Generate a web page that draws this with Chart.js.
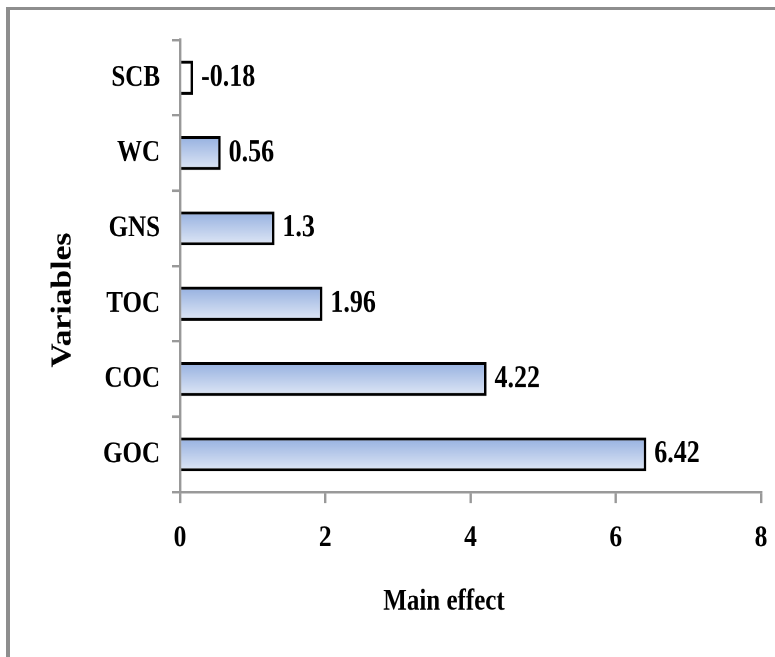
<!DOCTYPE html>
<html>
<head>
<meta charset="utf-8">
<script src="https://cdn.jsdelivr.net/npm/chart.js@4.4.1/dist/chart.umd.min.js"></script>
<style>
  html, body { margin: 0; padding: 0; background: #fff; overflow: hidden; }
  body { width: 775px; height: 657px; position: relative; }
  #frame {
    position: absolute; left: 6px; top: 7px; width: 820px; height: 720px;
    border-left: 4px solid #8e8e8e; border-top: 3px solid #8e8e8e;
  }
  /* the plot is laid out at 548px tall and stretched to the full page height */
  #plot {
    position: absolute; left: 0; top: 0; width: 775px; height: 548px;
    transform: scaleY(1.19891); transform-origin: 0 0;
  }
  canvas { display: block; }
</style>
</head>
<body>
<div id="frame"></div>
<div id="plot"><canvas id="chart" width="775" height="548" style="width:775px;height:548px"></canvas></div>
<script>
// Main effects of each variable
const variables   = ['SCB', 'WC', 'GNS', 'TOC', 'COC', 'GOC'];
const mainEffects = [-0.18, 0.56, 1.3, 1.96, 4.22, 6.42];
const effectTicks = [0, 2, 4, 6, 8];

const serif = '"Liberation Serif", "Times New Roman", serif';
const BAR_PCT = 0.45;

// vertical blue fade inside each bar; negative effects get a plain white bar
function barFill(ctx) {
  const value = mainEffects[ctx.dataIndex];
  if (value < 0) return '#ffffff';
  const chart = ctx.chart;
  const yScale = chart.scales && chart.scales.y;
  if (!chart.chartArea || !yScale || ctx.type !== 'data') return '#bccdeb';
  const center = yScale.getPixelForValue(ctx.dataIndex);
  const band = (yScale.bottom - yScale.top) / variables.length;
  const half = band * BAR_PCT / 2;
  const g = chart.ctx.createLinearGradient(0, center - half, 0, center + half);
  g.addColorStop(0, '#95b0e0');
  g.addColorStop(1, '#e0e8f6');
  return g;
}

// value written just past the end of each bar
const valueLabels = {
  id: 'valueLabels',
  afterDatasetsDraw(chart) {
    const ctx = chart.ctx;
    const meta = chart.getDatasetMeta(0);
    ctx.save();
    ctx.fillStyle = '#000';
    ctx.font = 'bold 26px ' + serif;
    ctx.textAlign = 'left';
    ctx.textBaseline = 'middle';
    meta.data.forEach((bar, i) => {
      ctx.fillText(String(mainEffects[i]), bar.x + 8, bar.y);
    });
    ctx.restore();
  }
};

// axis captions
const axisCaptions = {
  id: 'axisCaptions',
  afterDraw(chart) {
    const ctx = chart.ctx;
    const a = chart.chartArea;
    ctx.save();
    ctx.fillStyle = '#000';
    ctx.textAlign = 'center';
    ctx.textBaseline = 'middle';
    ctx.font = 'bold 25px ' + serif;
    ctx.fillText('Main effect', a.left + 264, a.bottom + 91.7);
    ctx.translate(a.left - 116.5, a.top + 216.8);
    ctx.rotate(-Math.PI / 2);
    ctx.font = 'bold 28px ' + serif;
    ctx.fillText('Variables', 0, 0);
    ctx.restore();
  }
};

new Chart(document.getElementById('chart'), {
  type: 'bar',
  data: {
    labels: variables,
    datasets: [{
      data: mainEffects.map(v => Math.abs(v)),
      backgroundColor: barFill,
      borderColor: '#000',
      borderWidth: 2.5,
      borderSkipped: 'start',
      barPercentage: BAR_PCT,
      categoryPercentage: 1
    }]
  },
  plugins: [valueLabels, axisCaptions],
  options: {
    indexAxis: 'y',
    responsive: false,
    devicePixelRatio: 2,
    animation: false,
    layout: { padding: { top: 33.4, right: 14, bottom: 77.6, left: 0 } },
    plugins: { legend: { display: false }, tooltip: { enabled: false } },
    scales: {
      x: {
        z: 1,
        min: effectTicks[0],
        max: effectTicks[effectTicks.length - 1],
        afterFit(scale) {
          scale.height = 60;
          scale.paddingLeft = 0;
          scale.paddingRight = 0;
        },
        grid: { drawOnChartArea: false, drawTicks: true, tickLength: 9.2, color: '#999', lineWidth: 2.4 },
        border: { display: true, color: '#999', width: 2.1 },
        ticks: {
          stepSize: effectTicks[1] - effectTicks[0],
          color: '#000',
          padding: 14,
          font: { family: serif, size: 25.5, weight: 'bold' }
        }
      },
      y: {
        z: 1,
        afterFit(scale) { scale.width = 180; },
        grid: { drawOnChartArea: false, drawTicks: true, tickLength: 8, color: '#999', lineWidth: 2.1, offset: true },
        border: { display: true, color: '#999', width: 2.4 },
        ticks: {
          color: '#000',
          padding: 12,
          font: { family: serif, size: 25, weight: 'bold' }
        }
      }
    }
  }
});
</script>
</body>
</html>
